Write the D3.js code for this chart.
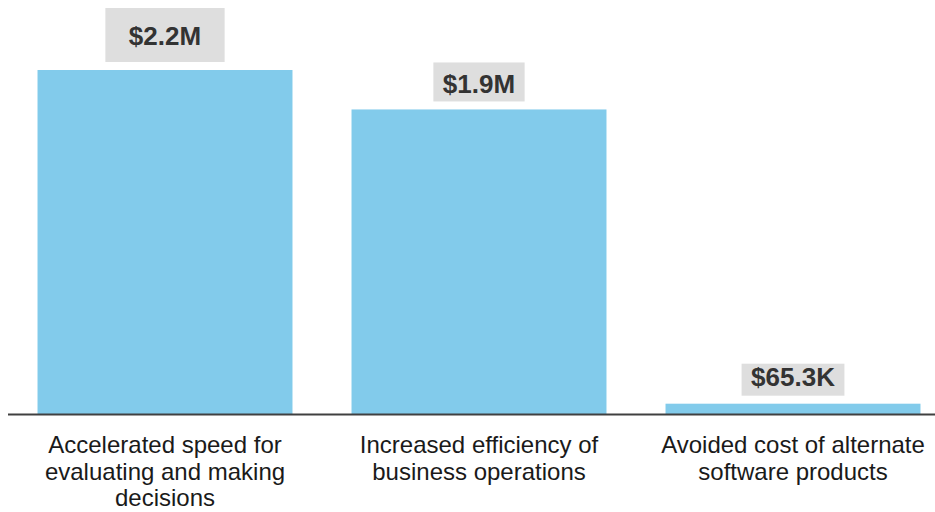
<!DOCTYPE html>
<html>
<head>
<meta charset="utf-8">
<script src="https://cdn.jsdelivr.net/npm/d3@7"></script>
<style>
  html, body { margin: 0; padding: 0; background: #ffffff; }
  svg { display: block; }
</style>
</head>
<body>
<div id="chart"></div>
<script>
// Benefit categories, each split over display lines
const categories = [
  "Accelerated speed for evaluating and making decisions",
  "Increased efficiency of business operations",
  "Avoided cost of alternate software products"
];
const categoryLines = [
  ["Accelerated speed for", "evaluating and making", "decisions"],
  ["Increased efficiency of", "business operations"],
  ["Avoided cost of alternate", "software products"]
];
// Dollar value of each benefit
const values = [2180000, 1930000, 65300];

// Tag styling per bar: horizontal padding, tag height, baseline offset from tag bottom
const tagStyle = [
  { padX: 23.5, h: 54, base: 17 },
  { padX: 9.5,  h: 39, base: 8 },
  { padX: 9.5,  h: 32, base: 9.5 }
];

const W = 935, H = 512;
const baseline = 414;
const plotTop = 70;

const fmt = v => v >= 1e6
  ? "$" + (v / 1e6).toFixed(1) + "M"
  : "$" + (v / 1e3).toFixed(1) + "K";

const svg = d3.select("#chart").append("svg")
  .attr("width", W).attr("height", H);

const x = d3.scaleBand()
  .domain(categories)
  .range([8, 950])
  .paddingInner(0.188)
  .paddingOuter(0.094);

const y = d3.scaleLinear()
  .domain([0, d3.max(values)])
  .range([baseline, plotTop]);

const data = categories.map((c, i) => ({ c, v: values[i], lines: categoryLines[i], s: tagStyle[i] }));

// Bars
svg.append("g").selectAll("rect")
  .data(data)
  .join("rect")
  .attr("x", d => x(d.c))
  .attr("y", d => y(d.v))
  .attr("width", x.bandwidth())
  .attr("height", d => y(0) - y(d.v))
  .attr("fill", "#82CBEB");

// Baseline axis
const axis = svg.append("g")
  .attr("transform", `translate(0,${baseline + 0.5})`)
  .call(d3.axisBottom(x).tickSize(0).tickFormat(""));
axis.select(".domain")
  .attr("d", `M8,0H${W}`)
  .attr("stroke", "#404040")
  .attr("stroke-width", 2);

// Category labels below the axis
const labels = svg.append("g").selectAll("text")
  .data(data)
  .join("text")
  .attr("x", d => x(d.c) + x.bandwidth() / 2)
  .attr("y", 453)
  .attr("text-anchor", "middle")
  .attr("font-family", "'Liberation Sans', Arial, sans-serif")
  .attr("font-size", 24)
  .attr("fill", "#1a1a1a");
labels.selectAll("tspan")
  .data(d => d.lines.map(l => ({ l, cx: x(d.c) + x.bandwidth() / 2 })))
  .join("tspan")
  .attr("x", t => t.cx)
  .attr("dy", (t, i) => i === 0 ? 0 : 26.5)
  .text(t => t.l);

// Value tags above each bar
const tags = svg.append("g").selectAll("g")
  .data(data)
  .join("g");

tags.each(function(d) {
  const g = d3.select(this);
  const cx = x(d.c) + x.bandwidth() / 2;
  const bottom = y(d.v) - 8;
  const rect = g.append("rect").attr("fill", "#DEDEDE");
  const t = g.append("text")
    .attr("x", cx)
    .attr("y", bottom - d.s.base)
    .attr("text-anchor", "middle")
    .attr("font-family", "'Liberation Sans', Arial, sans-serif")
    .attr("font-weight", "bold")
    .attr("font-size", 26)
    .attr("fill", "#333333")
    .text(fmt(d.v));
  const tw = t.node().getComputedTextLength();
  const bw = tw + 2 * d.s.padX;
  rect.attr("x", cx - bw / 2)
    .attr("y", bottom - d.s.h)
    .attr("width", bw)
    .attr("height", d.s.h);
});
</script>
</body>
</html>
